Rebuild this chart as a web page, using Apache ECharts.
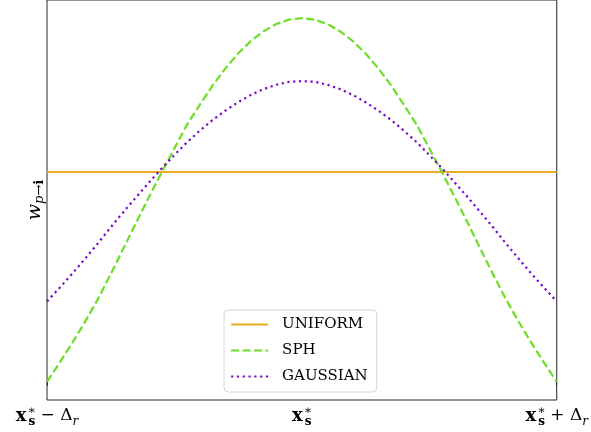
<!DOCTYPE html>
<html>
<head>
<meta charset="utf-8">
<script src="https://cdn.jsdelivr.net/npm/echarts@6/dist/echarts.min.js"></script>
<style>
  html, body { margin: 0; padding: 0; background: #fff; }
  #chart { width: 591px; height: 432px; }
</style>
</head>
<body>
<div id="chart"></div>
<script>
// Normalised offset from the particle, -1 = x*s - Δr, +1 = x*s + Δr
const offsets = [
  -1.00, -0.95, -0.90, -0.85, -0.80, -0.75, -0.70, -0.65, -0.60, -0.55,
  -0.50, -0.45, -0.40, -0.35, -0.30, -0.25, -0.20, -0.15, -0.10, -0.05,
   0.00,  0.05,  0.10,  0.15,  0.20,  0.25,  0.30,  0.35,  0.40,  0.45,
   0.50,  0.55,  0.60,  0.65,  0.70,  0.75,  0.80,  0.85,  0.90,  0.95, 1.00
];

// Kernel weights w_{p→i}
const sphWeights = [
  0.000, 0.053, 0.108, 0.166, 0.228, 0.296, 0.367, 0.438, 0.508, 0.576,
  0.642, 0.708, 0.762, 0.815, 0.862, 0.903, 0.937, 0.964, 0.984, 0.996,
  1.000,
  0.996, 0.984, 0.964, 0.937, 0.903, 0.862, 0.815, 0.762, 0.708, 0.642,
  0.576, 0.508, 0.438, 0.367, 0.296, 0.228, 0.166, 0.108, 0.053, 0.000
];
const gaussianWeights = [
  0.221, 0.259, 0.298, 0.339, 0.381, 0.425, 0.467, 0.508, 0.548, 0.587,
  0.624, 0.659, 0.691, 0.720, 0.746, 0.769, 0.789, 0.805, 0.817, 0.825,
  0.827,
  0.825, 0.817, 0.805, 0.789, 0.769, 0.746, 0.720, 0.691, 0.659, 0.624,
  0.587, 0.548, 0.508, 0.467, 0.425, 0.381, 0.339, 0.298, 0.259, 0.221
];
const uniformOffsets = [-1, 1];
const uniformWeights = [0.577, 0.577];

const seriesNames = ['UNIFORM', 'SPH', 'GAUSSIAN'];
const tickLabels = {
  '-1': '{x|x}{sup|∗}{sub|s}{op| − }{d|Δ}{r|r}',
  '0': '{x|x}{sup|∗}{sub|s}',
  '1': '{x|x}{sup|∗}{sub|s}{op| + }{d|Δ}{r|r}'
};

const pairs = (xs, ys) => xs.map((x, i) => [x, ys[i]]);

const serif = 'DejaVu Serif';
const rich = {
  x:   { fontFamily: serif, fontSize: 18, fontWeight: 'bold', lineHeight: 24, color: '#000', align: 'left' },
  sup: { fontFamily: serif, fontSize: 12, lineHeight: 12, verticalAlign: 'top', width: 0, color: '#000', align: 'left', padding: [1, 0, 0, 1] },
  sub: { fontFamily: serif, fontSize: 12, fontWeight: 'bold', lineHeight: 12, verticalAlign: 'bottom', color: '#000', align: 'left', padding: [0, 0, 0, 1] },
  op:  { fontFamily: serif, fontSize: 17, lineHeight: 24, color: '#000', align: 'left' },
  d:   { fontFamily: serif, fontSize: 17, lineHeight: 24, color: '#000', align: 'left' },
  r:   { fontFamily: serif, fontSize: 12, fontStyle: 'italic', lineHeight: 12, verticalAlign: 'bottom', color: '#000', align: 'left' }
};

const chart = echarts.init(document.getElementById('chart'), null, { renderer: 'canvas' });
chart.setOption({
  animation: false,
  backgroundColor: '#fff',
  grid: {
    left: 47, right: 34, top: 0, bottom: 32,
    show: true, borderColor: '#262626', borderWidth: 1, backgroundColor: 'transparent'
  },
  legend: {
    orient: 'vertical',
    left: 224, top: 310,
    padding: [7, 9, 8, 6],
    itemWidth: 37, itemHeight: 14, itemGap: 11,
    itemStyle: { opacity: 0 },
    lineStyle: { width: 2.2 },
    backgroundColor: '#fff',
    borderColor: '#d6d6d6', borderWidth: 1, borderRadius: 4,
    textStyle: { fontFamily: serif, fontSize: 15, color: '#000', padding: [0, 0, 0, 9] },
    data: seriesNames
  },
  xAxis: {
    type: 'value', min: -1, max: 1, interval: 1,
    axisLine: { show: false },
    splitLine: { show: false },
    axisTick: { show: true, length: 4, lineStyle: { color: '#262626', width: 1 } },
    axisLabel: {
      margin: 4,
      formatter: v => tickLabels[String(v)] || '',
      rich: rich
    }
  },
  yAxis: {
    type: 'value', min: -0.05, max: 1.05,
    axisLine: { show: false }, axisTick: { show: false },
    axisLabel: { show: false }, splitLine: { show: false },
    name: '{w|w}{s|p→}{i|i}',
    nameLocation: 'middle', nameRotate: 90, nameGap: 1,
    nameTextStyle: {
      rich: {
        w: { fontFamily: serif, fontSize: 19, fontStyle: 'italic', lineHeight: 22, color: '#000', align: 'left' },
        s: { fontFamily: serif, fontSize: 13, fontStyle: 'italic', lineHeight: 12, verticalAlign: 'bottom', color: '#000', align: 'left' },
        i: { fontFamily: serif, fontSize: 13, fontWeight: 'bold', lineHeight: 12, verticalAlign: 'bottom', color: '#000', align: 'left' }
      }
    }
  },
  series: [
    {
      name: 'UNIFORM', type: 'line', symbol: 'none',
      data: pairs(uniformOffsets, uniformWeights),
      lineStyle: { color: '#e6ad1e', width: 2.2, type: 'solid' },
      itemStyle: { color: '#e6ad1e' }
    },
    {
      name: 'SPH', type: 'line', symbol: 'none',
      data: pairs(offsets, sphWeights),
      lineStyle: { color: '#6ddd26', width: 2.2, type: [8, 3.5], cap: 'butt' },
      itemStyle: { color: '#6ddd26' }
    },
    {
      name: 'GAUSSIAN', type: 'line', symbol: 'none',
      data: pairs(offsets, gaussianWeights),
      lineStyle: { color: '#7a08cc', width: 2.2, type: [2.2, 3.6], cap: 'butt' },
      itemStyle: { color: '#7a08cc' }
    }
  ]
});
</script>
</body>
</html>
